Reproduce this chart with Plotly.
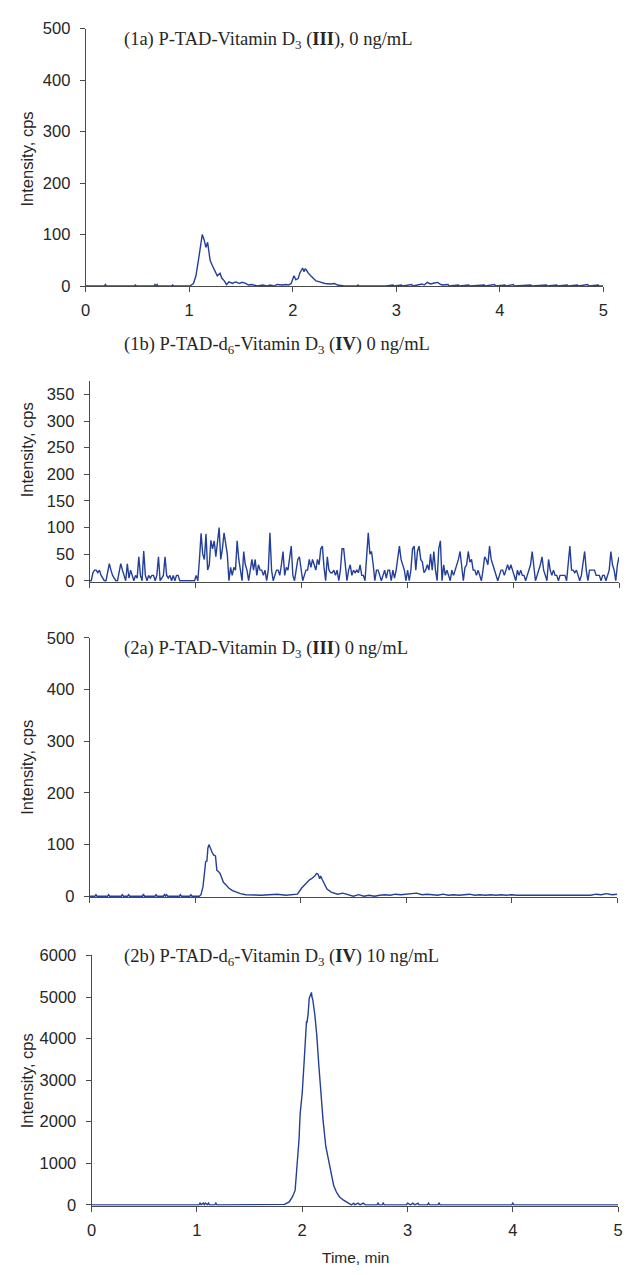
import numpy as np
import plotly.graph_objects as go

W, H = 627, 1275

# ---------------- data ----------------
# (1a) P-TAD-Vitamin D3 (III), 0 ng/mL
t_1a = [0, 0.18, 0.19, 0.20, 0.21, 0.47, 0.48, 0.49, 0.66, 0.67, 0.68, 0.69, 0.70, 0.71,
        0.83, 0.84, 0.85, 1.00, 1.006, 1.041, 1.065, 1.085, 1.102, 1.116, 1.126, 1.135,
        1.144, 1.161, 1.170, 1.178, 1.188, 1.202, 1.223, 1.247, 1.271, 1.298, 1.315, 1.339,
        1.360, 1.384, 1.400, 1.418, 1.435, 1.453, 1.470, 1.487, 1.505, 1.521, 1.545, 1.560,
        1.573, 1.607, 1.659, 1.710, 1.750, 1.779, 1.820, 1.848, 1.900, 1.933, 1.960, 1.985,
        2.000, 2.012, 2.030, 2.054, 2.068, 2.081, 2.095, 2.109, 2.120, 2.129, 2.150, 2.174,
        2.198, 2.225, 2.260, 2.311, 2.363, 2.404, 2.431, 2.500, 2.620, 2.630, 2.640, 2.900,
        2.970, 2.980, 3.050, 3.060, 3.150, 3.160, 3.250, 3.270, 3.300, 3.330, 3.370, 3.400,
        3.430, 3.450, 3.500, 3.510, 3.600, 3.610, 3.700, 3.710, 3.850, 3.860, 3.950, 3.960,
        4.050, 4.060, 4.130, 4.140, 4.300, 4.310, 4.450, 4.460, 4.550, 4.560, 4.650, 4.660,
        4.750, 4.760, 4.850, 4.860, 4.950, 4.960, 5.0]
i_1a = [0, 0, 3, 0, 0, 0, 2, 0, 0, 3, 0, 3, 0, 0,
        0, 2, 0, 0, 0, 5, 20, 45, 70, 85, 100, 95,
        90, 75, 80, 85, 70, 50, 40, 30, 20, 25, 15, 10,
        3, 8, 6, 5, 7, 8, 6, 5, 7, 7, 5, 3,
        2, 3, 0, 2, 0, 2, 0, 3, 2, 3, 2, 5,
        12, 20, 12, 15, 25, 30, 35, 28, 33, 32, 25, 20,
        15, 10, 8, 5, 4, 5, 2, 0, 0, 2, 0, 0,
        2, 0, 2, 0, 3, 0, 4, 2, 7, 4, 6, 7,
        3, 2, 3, 0, 2, 0, 2, 0, 2, 0, 3, 0,
        2, 0, 3, 0, 2, 0, 2, 0, 2, 0, 2, 0,
        2, 0, 3, 0, 2, 0, 0]

# (1b) P-TAD-d6-Vitamin D3 (IV) 0 ng/mL  (uniformly sampled 0-5 min)
i_1b = [0, 0, 15, 20, 20, 15, 20, 10, 5, 0, 0, 15, 32, 20, 10, 5, 0, 0, 15, 32,
        20, 10, 0, 32, 5, 20, 10, 0, 10, 5, 45, 10, 0, 56, 10, 0, 10, 5, 10, 10,
        0, 10, 45, 0, 5, 10, 45, 10, 5, 10, 0, 10, 0, 10, 10, 0, 0, 0, 0, 0,
        0, 0, 0, 0, 0, 10, 0, 40, 89, 50, 40, 88, 20, 30, 76, 60, 75, 45, 75, 100,
        40, 60, 90, 65, 50, 0, 25, 10, 25, 20, 75, 40, 20, 0, 55, 30, 20, 0, 20, 40,
        20, 40, 10, 30, 20, 20, 10, 20, 0, 20, 90, 20, 0, 10, 20, 20, 10, 30, 55, 10,
        25, 20, 40, 65, 10, 0, 20, 40, 45, 25, 0, 10, 20, 20, 40, 25, 40, 30, 20, 40,
        30, 60, 65, 25, 0, 45, 20, 15, 15, 20, 10, 20, 0, 20, 60, 60, 25, 0, 20, 30,
        10, 20, 15, 20, 15, 30, 10, 10, 0, 40, 90, 50, 55, 30, 0, 20, 20, 10, 0, 10,
        20, 5, 20, 20, 0, 20, 5, 20, 40, 65, 40, 30, 20, 0, 20, 0, 20, 60, 65, 20,
        55, 65, 40, 35, 15, 20, 30, 20, 50, 20, 55, 20, 0, 60, 75, 0, 30, 10, 20, 10,
        0, 20, 10, 20, 30, 40, 55, 20, 0, 25, 30, 55, 35, 40, 20, 20, 10, 20, 10, 0,
        20, 45, 40, 30, 65, 40, 30, 20, 10, 0, 10, 20, 20, 10, 20, 30, 20, 30, 20, 10,
        0, 20, 10, 20, 10, 10, 0, 10, 20, 30, 55, 20, 0, 10, 20, 30, 45, 20, 10, 0,
        40, 20, 10, 20, 10, 10, 0, 10, 10, 10, 10, 0, 30, 65, 20, 20, 15, 20, 10, 0,
        10, 30, 55, 20, 0, 20, 20, 20, 20, 10, 10, 10, 0, 10, 10, 0, 10, 20, 55, 30,
        20, 0, 30, 45]
t_1b = np.linspace(0, 5, len(i_1b))

# (2a) P-TAD-Vitamin D3 (III) 0 ng/mL
t_2a = [0, 0.05, 0.06, 0.07, 0.17, 0.18, 0.19, 0.30, 0.31, 0.32, 0.36, 0.37, 0.38,
        0.50, 0.51, 0.52, 0.62, 0.63, 0.64, 0.70, 0.71, 0.72, 0.73, 0.74, 0.85, 0.86,
        0.87, 0.95, 0.96, 0.97, 1.04, 1.056, 1.075, 1.090, 1.100, 1.112, 1.121, 1.131,
        1.143, 1.159, 1.174, 1.193, 1.206, 1.221, 1.237, 1.255, 1.268, 1.293, 1.318,
        1.355, 1.390, 1.430, 1.480, 1.550, 1.630, 1.700, 1.780, 1.860, 1.930, 1.970,
        2.010, 2.056, 2.080, 2.103, 2.134, 2.150, 2.165, 2.181, 2.190, 2.206, 2.234,
        2.250, 2.290, 2.350, 2.400, 2.460, 2.50, 2.55, 2.60, 2.65, 2.70, 2.75, 2.80,
        2.85, 2.90, 2.95, 3.00, 3.05, 3.10, 3.15, 3.20, 3.25, 3.30, 3.35, 3.40, 3.45,
        3.50, 3.55, 3.60, 3.65, 3.70, 3.75, 3.80, 3.85, 3.90, 3.95, 4.00, 4.05, 4.10,
        4.15, 4.20, 4.25, 4.30, 4.35, 4.40, 4.45, 4.50, 4.55, 4.60, 4.65, 4.70, 4.75,
        4.80, 4.85, 4.90, 4.95, 5.00]
i_2a = [0, 0, 3, 0, 0, 3, 0, 0, 3, 0, 0, 3, 0,
        0, 4, 0, 0, 3, 0, 0, 4, 0, 3, 0, 0, 3,
        0, 0, 3, 0, 0, 3, 19, 44, 67, 68, 93, 100,
        93, 86, 80, 78, 50, 48, 44, 34, 27, 22, 16,
        11, 8, 5, 3, 2, 2, 3, 4, 2, 3, 4,
        16, 27, 31, 34, 39, 44, 43, 34, 39, 32, 22,
        14, 8, 4, 6, 2, 0, 3, 0, 2, 0, 2, 3,
        2, 4, 3, 4, 5, 6, 3, 4, 3, 2, 4, 2, 3,
        2, 3, 4, 2, 3, 2, 3, 2, 3, 2, 3, 2, 2,
        3, 2, 3, 2, 3, 2, 3, 3, 2, 3, 2, 3, 2,
        4, 3, 5, 3, 4]

# (2b) P-TAD-d6-Vitamin D3 (IV) 10 ng/mL
t_2b = [0, 1.02, 1.03, 1.04, 1.06, 1.07, 1.08, 1.10, 1.11, 1.12, 1.17, 1.18, 1.19, 1.20,
        1.82, 1.832, 1.877, 1.907, 1.933, 1.944, 1.955, 1.970, 1.981, 2.000, 2.019, 2.030,
        2.041, 2.045, 2.056, 2.067, 2.078, 2.083, 2.088, 2.093, 2.101, 2.120, 2.138, 2.157,
        2.176, 2.198, 2.224, 2.250, 2.273, 2.299, 2.325, 2.355, 2.393, 2.430, 2.450, 2.467,
        2.490, 2.500, 2.530, 2.550, 2.580, 2.600, 2.710, 2.720, 2.730, 2.760, 2.770, 2.780,
        2.990, 3.000, 3.030, 3.050, 3.070, 3.100, 3.110, 3.120, 3.190, 3.200, 3.210, 3.290,
        3.300, 3.310, 3.990, 4.000, 4.010, 5.0]
i_2b = [0, 0, 40, 0, 40, 0, 40, 0, 40, 0, 0, 40, 0, 0,
        0, 10, 70, 190, 347, 703, 1098, 1572, 2204, 2678, 3468, 4022,
        4417, 4380, 4574, 4970, 5060, 5090, 5110, 5000, 4930, 4574, 4100, 3389,
        2718, 2045, 1414, 1098, 782, 466, 308, 190, 111, 47, 30, 0,
        40, 0, 40, 0, 40, 0, 0, 40, 0, 0, 40, 0,
        0, 40, 0, 40, 0, 40, 0, 0, 0, 40, 0, 0,
        40, 0, 0, 40, 0, 0]

titles = [
    "(1a) P-TAD-Vitamin D<sub>3</sub> (<b>III</b>), 0 ng/mL",
    "(1b) P-TAD-d<sub>6</sub>-Vitamin D<sub>3</sub> (<b>IV</b>) 0 ng/mL",
    "(2a) P-TAD-Vitamin D<sub>3</sub> (<b>III</b>) 0 ng/mL",
    "(2b) P-TAD-d<sub>6</sub>-Vitamin D<sub>3</sub> (<b>IV</b>) 10 ng/mL",
]
x_ticks = [0, 1, 2, 3, 4, 5]
y_label = "Intensity, cps"
x_label = "Time, min"

# ---------------- layout helpers ----------------
LINE = "#233f98"
AX = "#4a4a4a"
TXT = "#262626"
SANS = "Liberation Sans, Arial, sans-serif"
SERIF = "Liberation Serif, Times New Roman, serif"


def px_x(p):
    return p / W


def px_y(p):
    return 1 - p / H


panels = [
    dict(x0=82, x1=608, yb=281, yt=20, yr=[0, 500], dt=100, xl=True, layer="above traces"),
    dict(x0=86, x1=624, yb=581, yt=377, yr=[-2, 376], dt=50, xl=False, layer="below traces"),
    dict(x0=86, x1=622, yb=901, yt=638, yr=[-2, 500], dt=100, xl=False, layer="below traces"),
    dict(x0=88, x1=623, yb=1214, yt=960, yr=[-25, 6000], dt=1000, xl=True, layer="below traces"),
]
title_y = [32, 341, 650, 962]
ylabel_y = [152, 447, 769, 1087]

data = [(t_1a, i_1a), (t_1b, i_1b), (t_2a, i_2a), (t_2b, i_2b)]

fig = go.Figure()
layout = dict(
    width=W, height=H, margin=dict(l=0, r=0, t=0, b=0),
    paper_bgcolor="white", plot_bgcolor="white", showlegend=False,
    font=dict(family=SANS, size=16.5, color=TXT),
)
annotations = []
for k, (p, (tt, ii)) in enumerate(zip(panels, data), start=1):
    xa = "x" if k == 1 else f"x{k}"
    ya = "y" if k == 1 else f"y{k}"
    fig.add_trace(go.Scatter(x=list(tt), y=list(ii), mode="lines", xaxis=xa, yaxis=ya,
                             line=dict(color=LINE, width=1.4), hoverinfo="skip"))
    xkey = "xaxis" if k == 1 else f"xaxis{k}"
    ykey = "yaxis" if k == 1 else f"yaxis{k}"
    layout[xkey] = dict(
        domain=[px_x(p["x0"]), px_x(p["x1"])], anchor=ya, range=[0, 5],
        tickvals=x_ticks, showticklabels=p["xl"], ticks="outside", ticklen=5,
        tickcolor=AX, showline=True, linecolor=AX, linewidth=1, showgrid=False,
        zeroline=False, layer=p["layer"], tickfont=dict(size=16.5, color=TXT),
        ticklabelstandoff=4, fixedrange=True,
    )
    layout[ykey] = dict(
        domain=[px_y(p["yb"]), px_y(p["yt"])], anchor=xa, range=p["yr"],
        tick0=0, dtick=p["dt"], ticks="outside", ticklen=5, tickcolor=AX,
        showline=True, linecolor=AX, linewidth=1, showgrid=False, zeroline=False,
        layer=p["layer"], tickfont=dict(size=16.5, color=TXT), ticklabelstandoff=6,
        fixedrange=True,
    )
    annotations.append(dict(
        text=titles[k - 1], xref="paper", yref="paper", x=px_x(119), y=px_y(title_y[k - 1]),
        xanchor="left", yanchor="middle", showarrow=False,
        font=dict(family=SERIF, size=18.5, color=TXT),
    ))
    annotations.append(dict(
        text=y_label, xref="paper", yref="paper", x=px_x(22), y=px_y(ylabel_y[k - 1]),
        xanchor="center", yanchor="middle", textangle=-90, showarrow=False,
        font=dict(family=SANS, size=16.5, color=TXT),
    ))

annotations.append(dict(
    text=x_label, xref="paper", yref="paper", x=px_x(356), y=px_y(1266),
    xanchor="center", yanchor="middle", showarrow=False,
    font=dict(family=SANS, size=15.5, color=TXT),
))

layout["annotations"] = annotations
fig.update_layout(**layout)
fig.write_html("out.html", config={"displayModeBar": False})
